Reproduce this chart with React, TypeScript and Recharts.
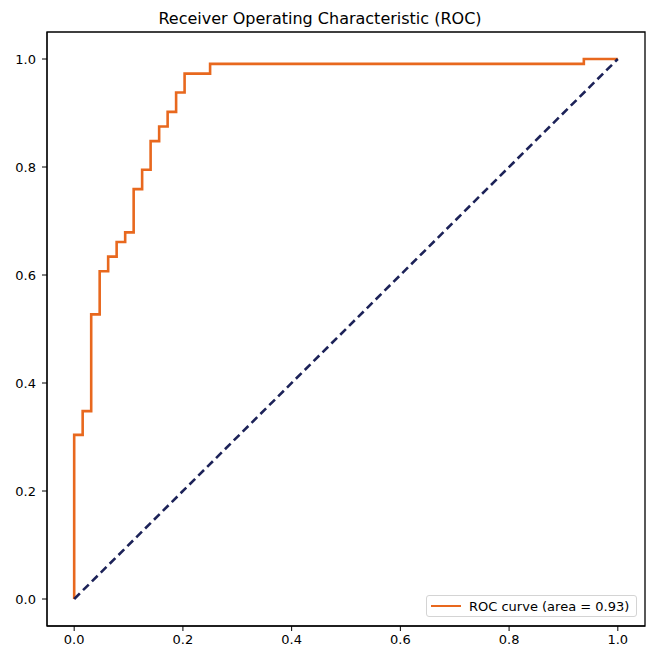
import { Legend, Line, LineChart, ReferenceArea, XAxis, YAxis } from 'recharts'

// ROC corner points (false positive rate / true positive rate)
const fpr = [
  0, 0, 0.0156, 0.0156, 0.0313, 0.0313, 0.0469, 0.0469, 0.0625, 0.0625, 0.0781, 0.0781,
  0.0938, 0.0938, 0.1094, 0.1094, 0.125, 0.125, 0.1406, 0.1406, 0.1563, 0.1563, 0.1719,
  0.1719, 0.1875, 0.1875, 0.2031, 0.2031, 0.25, 0.25, 0.9375, 0.9375, 1,
]
const tpr = [
  0, 0.304, 0.304, 0.348, 0.348, 0.527, 0.527, 0.607, 0.607, 0.634, 0.634, 0.661, 0.661,
  0.679, 0.679, 0.759, 0.759, 0.795, 0.795, 0.848, 0.848, 0.875, 0.875, 0.902, 0.902,
  0.938, 0.938, 0.973, 0.973, 0.991, 0.991, 1, 1,
]
const chanceX = [0, 1]
const chanceY = [0, 1]
const ticks = [0, 0.2, 0.4, 0.6, 0.8, 1.0]
const areaLabel = 'ROC curve (area = 0.93)'
const title = 'Receiver Operating Characteristic (ROC)'

const rocData = fpr.map((x, i) => ({ x, y: tpr[i] }))
const chanceData = chanceX.map((x, i) => ({ x, y: chanceY[i] }))

const FONT = '"DejaVu Sans", sans-serif'
const ORANGE = '#e8681e'
const NAVY = '#1c2258'

function RocLegend() {
  return (
    <div
      style={{
        display: 'flex',
        alignItems: 'center',
        border: '1px solid #d4d4d4',
        borderRadius: 3,
        background: '#fff',
        width: 211,
        height: 22,
        boxSizing: 'border-box',
        fontFamily: FONT,
        fontSize: 13,
        color: '#000',
      }}
    >
      <div style={{ width: 30, height: 2.5, background: ORANGE, marginLeft: 4, marginRight: 8 }} />
      <span>{areaLabel}</span>
    </div>
  )
}

export default function App() {
  return (
    <div style={{ position: 'absolute', left: 0, top: 0, width: 654, height: 647, background: '#fff' }}>
      <LineChart width={654} height={647} margin={{ top: 32, right: 9, bottom: 0, left: 0 }}>
        <text x={320} y={24} textAnchor="middle" fontFamily={FONT} fontSize={16} fill="#000">
          {title}
        </text>
        <XAxis
          type="number"
          dataKey="x"
          domain={[-0.05, 1.05]}
          allowDataOverflow
          ticks={ticks}
          tickFormatter={(v: number) => v.toFixed(1)}
          height={21}
          tickSize={5}
          tickMargin={4}
          stroke="#000"
          tick={{ fill: '#000', fontSize: 13, fontFamily: FONT }}
        />
        <YAxis
          type="number"
          dataKey="y"
          domain={[-0.05, 1.05]}
          allowDataOverflow
          ticks={ticks}
          tickFormatter={(v: number) => v.toFixed(1)}
          width={47}
          tickSize={5}
          tickMargin={6}
          stroke="#000"
          tick={{ fill: '#000', fontSize: 13, fontFamily: FONT }}
        />
        <ReferenceArea x1={-0.05} x2={1.05} y1={-0.05} y2={1.05} fill="none" stroke="#000" strokeWidth={1.3} />
        <Line
          data={rocData}
          dataKey="y"
          type="linear"
          stroke={ORANGE}
          strokeWidth={2.6}
          dot={false}
          activeDot={false}
          isAnimationActive={false}
        />
        <Line
          data={chanceData}
          dataKey="y"
          type="linear"
          stroke={NAVY}
          strokeWidth={2.6}
          strokeDasharray="8 4.5"
          dot={false}
          activeDot={false}
          isAnimationActive={false}
          legendType="none"
        />
        <Legend
          layout="vertical"
          align="center"
          verticalAlign="middle"
          content={<RocLegend />}
          wrapperStyle={{ position: 'absolute', left: 426, top: 595, width: 211, height: 22 }}
        />
      </LineChart>
    </div>
  )
}
